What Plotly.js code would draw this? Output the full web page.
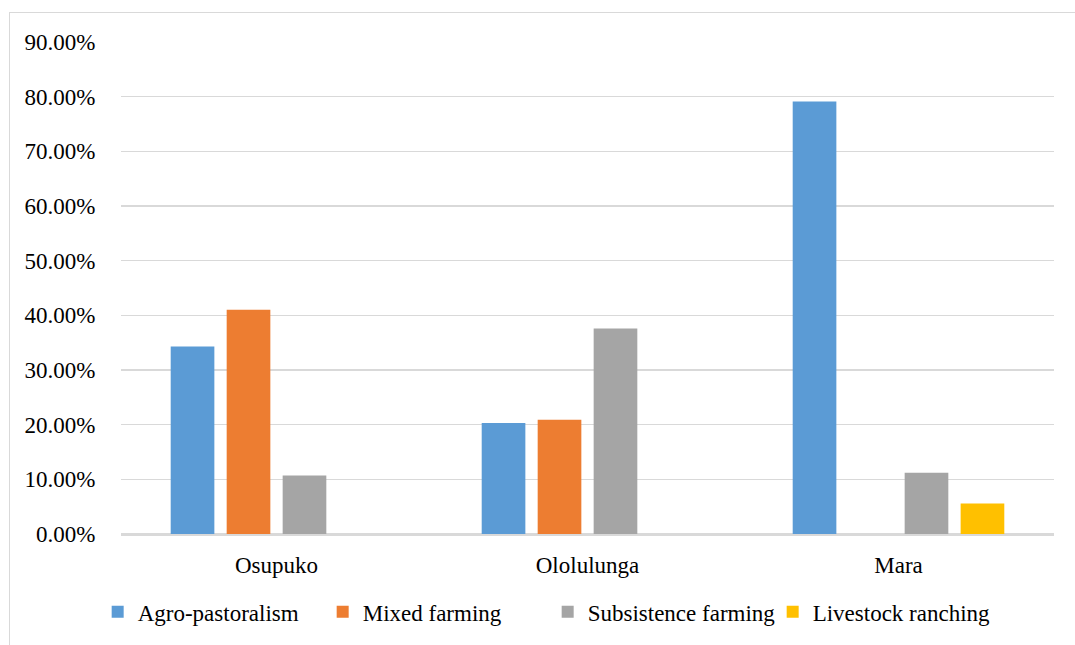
<!DOCTYPE html>
<html>
<head>
<meta charset="utf-8">
<script src="https://cdn.plot.ly/plotly-3.0.1.min.js"></script>
<style>
  html, body { margin: 0; padding: 0; background: #fff; overflow: hidden; }
  #chart { width: 1075px; height: 645px; }
  #frame { position: absolute; left: 9px; top: 12px; width: 1200px; height: 800px;
           border-left: 1.5px solid #d9d9d9; border-top: 1.5px solid #d9d9d9; pointer-events: none; }
</style>
</head>
<body>
<div id="chart"></div>
<div id="frame"></div>
<script>
const categories = ["Osupuko", "Ololulunga", "Mara"];
const seriesNames = ["Agro-pastoralism", "Mixed farming", "Subsistence farming", "Livestock ranching"];
const agroPastoralism = [0.343, 0.203, 0.791];
const mixedFarming = [0.410, 0.209, 0];
const subsistenceFarming = [0.107, 0.376, 0.112];
const livestockRanching = [0, 0, 0.056];
const yTicks = [0, 0.1, 0.2, 0.3, 0.4, 0.5, 0.6, 0.7, 0.8, 0.9];

const colors = ["#5B9BD5", "#ED7D31", "#A5A5A5", "#FFC000"];
const seriesValues = [agroPastoralism, mixedFarming, subsistenceFarming, livestockRanching];

const traces = seriesValues.map((vals, i) => ({
  type: "bar",
  name: seriesNames[i],
  x: categories,
  y: vals,
  marker: { color: colors[i], line: { width: 0 } },
  hoverinfo: "x+y+name"
}));

const font = { family: "Liberation Serif, Times New Roman, serif", size: 23, color: "#000" };

const layout = {
  width: 1075,
  height: 645,
  margin: { l: 121, r: 21, t: 42, b: 109 },
  paper_bgcolor: "#fff",
  plot_bgcolor: "#fff",
  font: font,
  barmode: "group",
  bargap: 0.28,
  bargroupgap: 0.22,
  showlegend: true,
  legend: {
    orientation: "h",
    x: -0.025,
    xanchor: "left",
    y: -0.158,
    yanchor: "middle",
    entrywidth: 180,
    entrywidthmode: "pixels",
    font: font,
    traceorder: "normal",
    itemclick: false
  },
  xaxis: {
    type: "category",
    showgrid: false,
    showline: true,
    linecolor: "#d9d9d9",
    linewidth: 1.5,
    ticks: "outside",
    ticklen: 10,
    tickcolor: "rgba(0,0,0,0)",
    tickfont: font,
    zeroline: false
  },
  yaxis: {
    range: [0, 0.9],
    tickvals: yTicks,
    tickformat: ".2%",
    showgrid: true,
    gridcolor: "#d9d9d9",
    gridwidth: 1.5,
    zeroline: true,
    zerolinecolor: "#d9d9d9",
    zerolinewidth: 1.5,
    showline: false,
    ticks: "outside",
    ticklen: 20,
    tickcolor: "rgba(0,0,0,0)",
    tickfont: font
  }
};

Plotly.newPlot("chart", traces, layout, { displayModeBar: false, staticPlot: true });
</script>
</body>
</html>
